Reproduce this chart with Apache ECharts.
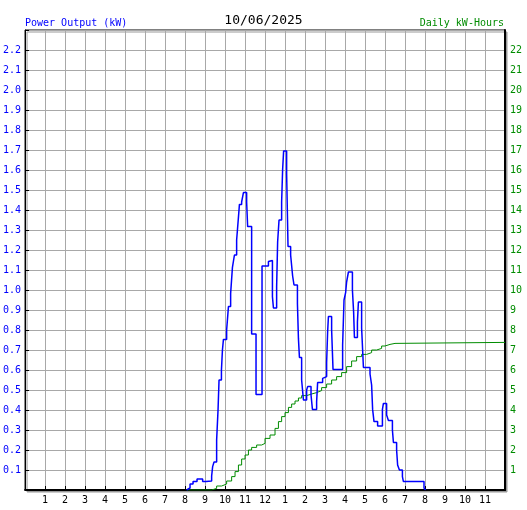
<!DOCTYPE html>
<html>
<head>
<meta charset="utf-8">
<script src="https://cdn.jsdelivr.net/npm/echarts@6/dist/echarts.min.js"></script>
<style>
  html, body { margin: 0; padding: 0; background: #fff; }
  #chart { width: 527px; height: 510px; }
</style>
</head>
<body>
<div id="chart"></div>
<script>
  // power output, step line (hour of day, kW)
  var powerHours = [8.08, 8.15, 8.25, 8.4, 8.6, 8.88, 9.05, 9.33, 9.38, 9.45, 9.58, 9.65, 9.7, 9.82, 9.87,
    9.92, 10.08, 10.17, 10.28, 10.37, 10.47, 10.58, 10.67, 10.72, 10.83, 10.92, 11.08, 11.13, 11.33, 11.55,
    11.85, 12.17, 12.25, 12.37, 12.42, 12.58, 12.63, 12.7, 12.83, 12.88, 12.93, 13.08, 13.15, 13.28, 13.38,
    13.45, 13.62, 13.67, 13.72, 13.83, 13.92, 14.08, 14.13, 14.3, 14.37, 14.58, 14.63, 14.88, 14.97, 15.08,
    15.13, 15.17, 15.33, 15.4, 15.88, 15.95, 16.03, 16.08, 16.17, 16.37, 16.43, 16.47, 16.62, 16.67, 16.83,
    16.88, 16.92, 17.25, 17.33, 17.38, 17.45, 17.63, 17.87, 17.92, 18.08, 18.17, 18.37, 18.42, 18.58, 18.63,
    18.72, 18.87, 18.92, 19.95, 20.03];
  var powerKw = [0, 0.01, 0.03, 0.042, 0.055, 0.042, 0.045, 0.07, 0.117, 0.14, 0.25, 0.40, 0.55, 0.6, 0.7,
    0.753, 0.80, 0.917, 0.983, 1.113, 1.175, 1.25, 1.363, 1.428, 1.44, 1.487, 1.44, 1.317, 0.78, 0.478,
    1.12, 1.142, 1.147, 0.967, 0.91, 1.017, 1.24, 1.35, 1.44, 1.603, 1.695, 1.583, 1.217, 1.175, 1.07,
    1.025, 0.933, 0.758, 0.663, 0.55, 0.45, 0.5, 0.517, 0.475, 0.403, 0.442, 0.537, 0.558, 0.567, 0.637,
    0.79, 0.867, 0.8, 0.603, 0.725, 0.95, 0.987, 1.04, 1.09, 1.0, 0.89, 0.763, 0.84, 0.94, 0.81,
    0.70, 0.613, 0.58, 0.525, 0.403, 0.342, 0.32, 0.403, 0.433, 0.375, 0.347, 0.30, 0.238, 0.20, 0.125,
    0.10, 0.067, 0.042, 0.01, 0];

  // cumulative daily energy (hour of day, kWh)
  var energyHours = [8.08, 9.33, 9.58, 9.83, 10.08, 10.33, 10.5, 10.67, 10.83, 11.0, 11.17, 11.33, 11.58,
    11.83, 12.0, 12.25, 12.5, 12.67, 12.83, 13.0, 13.17, 13.33, 13.5, 13.67, 13.83, 14.08, 14.33, 14.58,
    14.83, 15.08, 15.33, 15.58, 15.83, 16.08, 16.33, 16.58, 16.83, 17.08, 17.33, 17.58, 17.83, 18.0,
    18.25, 18.5, 18.58, 24.0];
  var energyKwh = [0, 0.08, 0.2, 0.3, 0.45, 0.67, 0.92, 1.25, 1.55, 1.75, 2.0, 2.13, 2.25,
    2.33, 2.58, 2.75, 3.08, 3.42, 3.67, 3.87, 4.13, 4.3, 4.45, 4.6, 4.72, 4.8, 4.87, 4.97,
    5.12, 5.3, 5.5, 5.67, 5.87, 6.17, 6.45, 6.67, 6.78, 6.87, 7.0, 7.08, 7.2, 7.28,
    7.33, 7.37, 7.38, 7.38];

  var dateLabel = '10/06/2025';
  var powerTitle = 'Power Output (kW)';
  var energyTitle = 'Daily kW-Hours';

  var mono = 'DejaVu Sans Mono';
  var blue = '#0000ff';
  var green = '#008c00';

  function pairs(xs, ys) {
    return xs.map(function (x, i) { return [x, ys[i]]; });
  }

  var myChart = echarts.init(document.getElementById('chart'));
  myChart.setOption({
    animation: false,
    title: [
      { text: dateLabel, left: 'center', top: 14, padding: 0,
        textStyle: { fontFamily: mono, fontSize: 13, fontWeight: 'normal', color: '#000' } },
      { text: powerTitle, left: 25, top: 18, padding: 0,
        textStyle: { fontFamily: mono, fontSize: 10, fontWeight: 'normal', color: blue } },
      { text: energyTitle, right: 23, top: 18, padding: 0,
        textStyle: { fontFamily: mono, fontSize: 10, fontWeight: 'normal', color: green } }
    ],
    grid: {
      left: 25, right: 22, top: 30, bottom: 20,
      show: true, backgroundColor: '#fff',
      borderColor: '#000', borderWidth: 1,
      shadowColor: '#999', shadowOffsetX: 2, shadowOffsetY: 2, shadowBlur: 0
    },
    xAxis: {
      type: 'value', min: 0, max: 24, interval: 1,
      axisLine: { lineStyle: { color: '#000', width: 2 } },
      axisTick: { inside: true, length: 4, lineStyle: { color: '#000' } },
      splitLine: { show: true, lineStyle: { color: '#a8a8a8', width: 1 } },
      axisLabel: {
        margin: 5, color: '#000', fontFamily: mono, fontSize: 10,
        formatter: function (h) {
          if (h <= 0 || h >= 24) return '';
          return String(h > 12 ? h - 12 : h);
        }
      }
    },
    yAxis: [
      {
        type: 'value', min: 0, max: 2.3, interval: 0.1,
        axisLine: { show: true, lineStyle: { color: '#000', width: 1 } },
        axisTick: { show: true, inside: true, length: 4, lineStyle: { color: '#000' } },
        splitLine: { show: true, lineStyle: { color: '#a8a8a8', width: 1 } },
        axisLabel: {
          margin: 4, color: blue, fontFamily: mono, fontSize: 10,
          formatter: function (v) {
            if (v <= 0.001 || v >= 2.25) return '';
            return v.toFixed(1);
          }
        }
      },
      {
        type: 'value', min: 0, max: 23, interval: 1, position: 'right',
        axisLine: { show: true, lineStyle: { color: '#000', width: 2 } },
        axisTick: { show: false },
        splitLine: { show: false },
        axisLabel: {
          margin: 5, color: green, fontFamily: mono, fontSize: 10,
          formatter: function (v) {
            if (v <= 0 || v >= 23) return '';
            return String(v);
          }
        }
      }
    ],
    series: [
      {
        name: energyTitle, type: 'line', step: 'end', yAxisIndex: 1,
        data: pairs(energyHours, energyKwh),
        showSymbol: false, lineStyle: { color: green, width: 1 }
      },
      {
        name: powerTitle, type: 'line', step: 'end', yAxisIndex: 0,
        data: pairs(powerHours, powerKw),
        showSymbol: false, lineStyle: { color: blue, width: 1.5 }
      }
    ]
  });
</script>
</body>
</html>
